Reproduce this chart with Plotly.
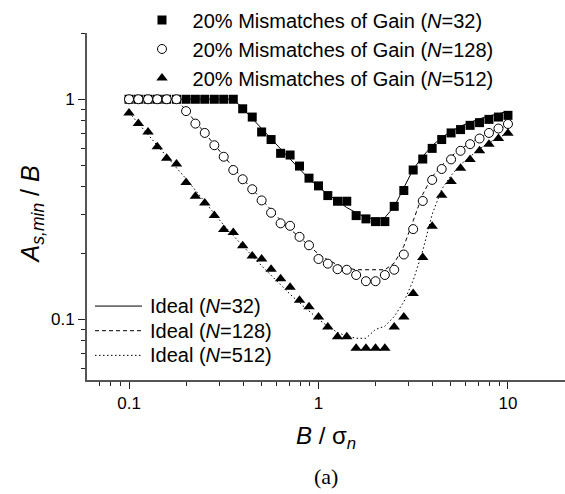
import math
import plotly.graph_objects as go

# B / sigma_n values (1 dB steps from 0.1 to 10)
x_vals = [0.1, 0.112, 0.126, 0.141, 0.158, 0.178, 0.2, 0.224, 0.251, 0.282,
          0.316, 0.355, 0.398, 0.447, 0.501, 0.562, 0.631, 0.708, 0.794, 0.891,
          1.0, 1.12, 1.26, 1.41, 1.58, 1.78, 2.0, 2.24, 2.51, 2.82,
          3.16, 3.55, 3.98, 4.47, 5.01, 5.62, 6.31, 7.08, 7.94, 8.91, 10.0]

mis_n32 = [1, 1, 1, 1, 1, 1, 1, 1, 1, 1, 1, 1,
           0.905, 0.83, 0.71, 0.656, 0.568, 0.558, 0.497, 0.438, 0.404, 0.365,
           0.344, 0.344, 0.296, 0.286, 0.278, 0.278, 0.326, 0.385, 0.477, 0.535,
           0.598, 0.656, 0.703, 0.728, 0.761, 0.783, 0.81, 0.83, 0.845]

mis_n128 = [1, 1, 1, 1, 1, 1,
            0.883, 0.775, 0.703, 0.618, 0.548, 0.477, 0.433, 0.39, 0.347, 0.305,
            0.273, 0.266, 0.237, 0.217, 0.188, 0.179, 0.169, 0.168, 0.159, 0.149,
            0.149, 0.159, 0.168, 0.197, 0.257, 0.345, 0.43, 0.482, 0.533, 0.583,
            0.625, 0.663, 0.703, 0.736, 0.772]

mis_n512 = [0.865, 0.775, 0.71, 0.608, 0.539, 0.508, 0.418, 0.362, 0.338, 0.296,
            0.256, 0.248, 0.216, 0.194, 0.188, 0.169, 0.153, 0.14, 0.122, 0.114,
            0.1025, 0.0924, 0.0833, 0.0833, 0.0738, 0.0738, 0.0738, 0.0738, 0.0924, 0.1025,
            0.131, 0.191, 0.265, 0.366, 0.423, 0.486, 0.533, 0.583, 0.625, 0.663, 0.70]

ideal_n32 = [1, 1, 1, 1, 1, 1, 1, 1, 1, 1, 1, 1,
             0.91, 0.82, 0.74, 0.665, 0.595, 0.535, 0.48, 0.435, 0.40, 0.37,
             0.345, 0.322, 0.305, 0.29, 0.285, 0.29, 0.325, 0.395, 0.48, 0.55,
             0.615, 0.67, 0.715, 0.755, 0.785, 0.815, 0.84, 0.86, 0.88]

ideal_n128 = [1, 1, 1, 1, 1, 1,
              0.89, 0.79, 0.705, 0.625, 0.555, 0.49, 0.435, 0.39, 0.35, 0.312,
              0.282, 0.257, 0.235, 0.215, 0.198, 0.186, 0.177, 0.171, 0.168, 0.168,
              0.168, 0.168, 0.18, 0.215, 0.28, 0.37, 0.445, 0.5, 0.55, 0.593,
              0.633, 0.67, 0.703, 0.733, 0.76]

ideal_n512 = [0.87, 0.775, 0.69, 0.615, 0.548, 0.488, 0.435, 0.385, 0.342, 0.303,
              0.268, 0.24, 0.215, 0.194, 0.175, 0.158, 0.143, 0.13, 0.119, 0.109,
              0.1, 0.093, 0.087, 0.084, 0.082, 0.082, 0.09, 0.093, 0.103, 0.12,
              0.15, 0.205, 0.30, 0.39, 0.45, 0.505, 0.55, 0.595, 0.635, 0.67, 0.70]

mis_labels = ["\u00a020% Mismatches of Gain (<i>N</i>=32)",
              "\u00a020% Mismatches of Gain (<i>N</i>=128)",
              "\u00a020% Mismatches of Gain (<i>N</i>=512)"]
ideal_labels = ["Ideal (<i>N</i>=32)", "Ideal (<i>N</i>=128)", "Ideal (<i>N</i>=512)"]

x_tick_vals = [0.1, 1, 10]
x_tick_text = ["0.1", "1", "10"]
x_minor = [0.07, 0.08, 0.09, 0.2, 0.3, 0.4, 0.5, 0.6, 0.7, 0.8, 0.9,
           2, 3, 4, 5, 6, 7, 8, 9, 20]
y_tick_vals = [0.1, 1]
y_tick_text = ["0.1", "1"]
y_minor = [0.06, 0.07, 0.08, 0.09, 0.2, 0.3, 0.4, 0.5, 0.6, 0.7, 0.8, 0.9, 2]

FONT = "Liberation Sans, Arial, sans-serif"
W, H = 565, 494
ML, MR, MT, MB = 87, 0, 28, 114


def px_x(px):
    return (px - ML) / (W - ML - MR)


def px_y(py):
    return (H - MB - py) / (H - MT - MB)


ideal_dashes = ["solid", "4px,3px", "1.5px,2.5px"]

fig = go.Figure()

for ys, lab, dash in zip([ideal_n32, ideal_n128, ideal_n512], ideal_labels, ideal_dashes):
    fig.add_trace(go.Scatter(x=x_vals, y=ys, mode="lines", name=lab, showlegend=False,
                             line=dict(color="black", width=1, dash=dash)))

fig.add_trace(go.Scatter(x=x_vals, y=mis_n32, mode="markers", name=mis_labels[0],
                         marker=dict(symbol="square", size=9, color="black", line=dict(width=0))))
fig.add_trace(go.Scatter(x=x_vals, y=mis_n128, mode="markers", name=mis_labels[1],
                         marker=dict(symbol="circle", size=9, color="white",
                                     line=dict(width=1, color="black"))))
fig.add_trace(go.Scatter(x=x_vals, y=mis_n512, mode="markers", name=mis_labels[2],
                         marker=dict(symbol="triangle-up", size=10, color="black", line=dict(width=0))))

axis_common = dict(type="log", showgrid=False, zeroline=False, showline=True,
                   linecolor="#555555", linewidth=2, ticks="outside", ticklen=7,
                   tickwidth=1, tickcolor="#222222",
                   tickfont=dict(family=FONT, size=17, color="black"))

fig.update_xaxes(**axis_common, range=[math.log10(0.06), math.log10(20)],
                 tickmode="array", tickvals=x_tick_vals, ticktext=x_tick_text,
                 minor=dict(tickvals=x_minor, ticklen=4, ticks="outside",
                            tickcolor="#222222", tickwidth=1))
fig.update_yaxes(**axis_common, range=[math.log10(0.053), math.log10(2)],
                 tickmode="array", tickvals=y_tick_vals, ticktext=y_tick_text,
                 minor=dict(tickvals=y_minor, ticklen=4, ticks="outside",
                            tickcolor="#222222", tickwidth=1))

# manual legend for the ideal curves (lower left)
shapes = []
annotations = []
for i, (lab, dash) in enumerate(zip(ideal_labels, ideal_dashes)):
    row_y = px_y(305 + 25 * i)
    shapes.append(dict(type="line", xref="paper", yref="paper",
                       x0=px_x(95), x1=px_x(142), y0=row_y, y1=row_y,
                       line=dict(color="black", width=1, dash=dash)))
    annotations.append(dict(text=lab, x=px_x(148), y=row_y, xref="paper", yref="paper",
                            xanchor="left", yanchor="middle", showarrow=False,
                            font=dict(family=FONT, size=20)))

annotations += [
    dict(text="<i>B</i> / σ<sub><i>n</i></sub>", x=0.5, y=px_y(438), xref="paper", yref="paper",
         xanchor="center", yanchor="middle", showarrow=False,
         font=dict(family=FONT, size=24)),
    dict(text="<i>A</i><sub><i>s,min</i></sub> / <i>B</i>", x=px_x(32), y=px_y(212),
         xref="paper", yref="paper", xanchor="center", yanchor="middle",
         textangle=-90, showarrow=False, font=dict(family=FONT, size=25)),
    dict(text="(a)", x=0.5, y=px_y(478), xref="paper", yref="paper",
         xanchor="center", yanchor="middle", showarrow=False,
         font=dict(family="Liberation Serif, serif", size=22)),
]

fig.update_layout(
    width=W, height=H,
    margin=dict(l=ML, r=MR, t=MT, b=MB),
    paper_bgcolor="white", plot_bgcolor="white",
    font=dict(family=FONT, color="black"),
    showlegend=True,
    legend=dict(x=px_x(137), y=px_y(-5), xanchor="left", yanchor="top",
                font=dict(family=FONT, size=20), bgcolor="rgba(0,0,0,0)",
                borderwidth=0, tracegroupgap=0, itemsizing="trace", itemwidth=40),
    shapes=shapes,
    annotations=annotations,
)

fig.write_html("out.html")
